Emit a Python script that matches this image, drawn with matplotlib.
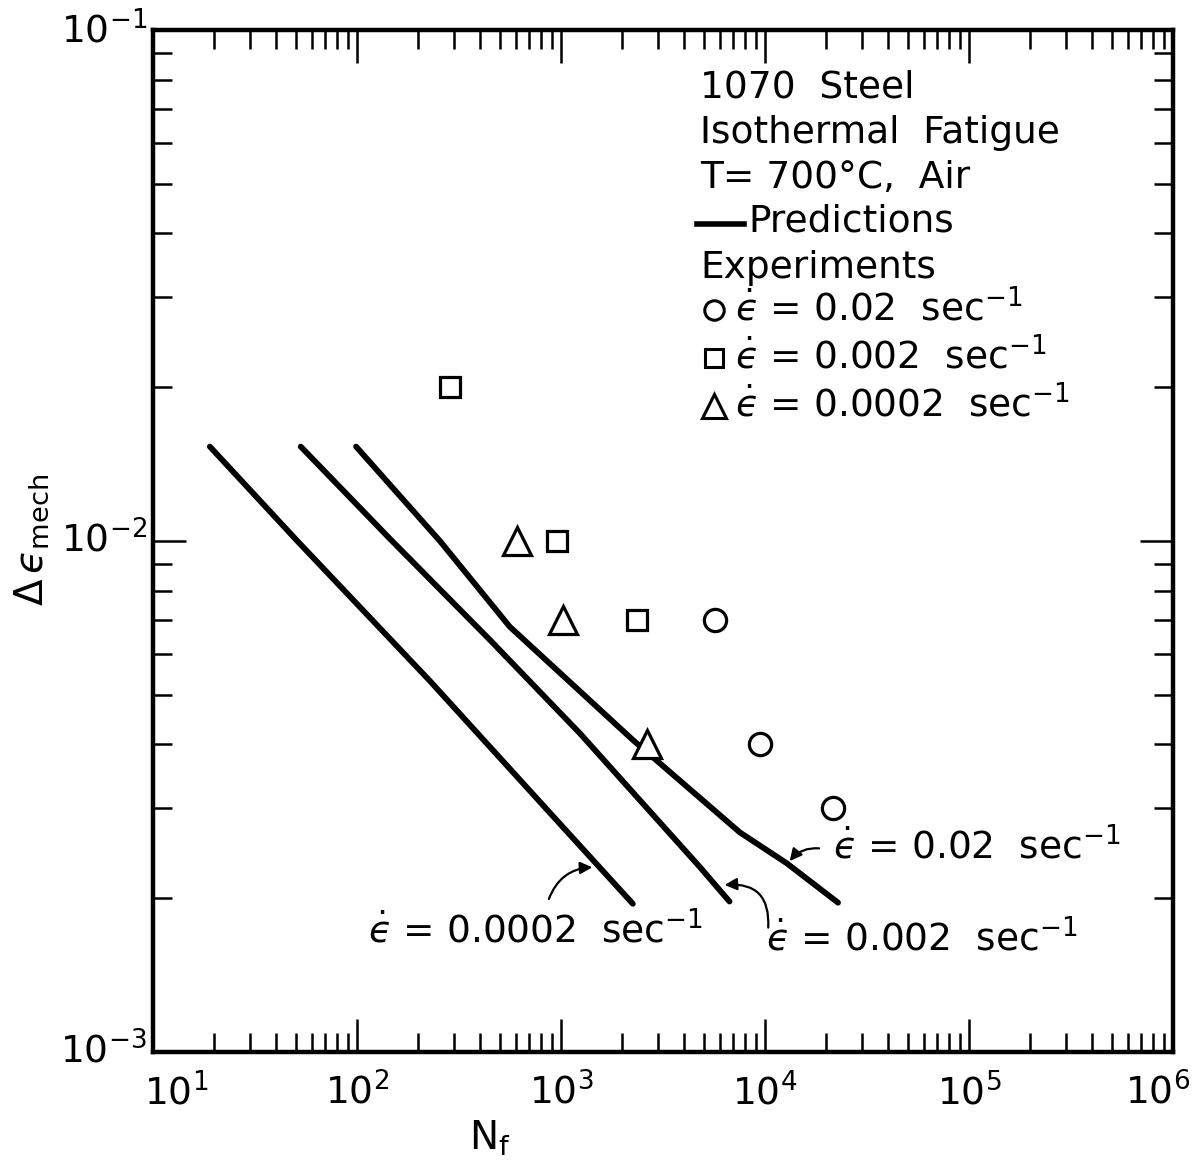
import numpy as np
import matplotlib
matplotlib.use("Agg")
import matplotlib.pyplot as plt
from matplotlib.ticker import LogLocator, NullFormatter
from matplotlib.transforms import blended_transform_factory

plt.rcParams['font.family'] = ['DejaVu Sans']
plt.rcParams['mathtext.fontset'] = 'dejavusans'

# predicted curves (Nf, strain range)
pred_0002_n = [19, 51, 228, 1070, 2250]
pred_0002_e = [0.0153, 0.0100, 0.00532, 0.0027, 0.00195]
pred_002_n = [53, 145, 449, 1240, 4800, 6700]
pred_002_e = [0.0153, 0.0101, 0.0064, 0.0042, 0.0023, 0.00197]
pred_02_n = [99, 255, 560, 2250, 7530, 12800, 22800]
pred_02_e = [0.0153, 0.0100, 0.0068, 0.00408, 0.00269, 0.00234, 0.00196]

# experiments
exp_02_n = [5690, 9440, 21500]
exp_02_e = [0.007, 0.004, 0.003]
exp_002_n = [286, 955, 2360]
exp_002_e = [0.020, 0.010, 0.007]
exp_0002_n = [608, 1020, 2640]
exp_0002_e = [0.010, 0.007, 0.004]

x_ticks = [1e1, 1e2, 1e3, 1e4, 1e5, 1e6]
x_ticklabels = [r'$10^{1}$', r'$10^{2}$', r'$10^{3}$', r'$10^{4}$', r'$10^{5}$', r'$10^{6}$']
y_ticks = [1e-3, 1e-2, 1e-1]
y_ticklabels = [r'$10^{-3}$', r'$10^{-2}$', r'$10^{-1}$']

EPS = '$\\dot{\u03f5}$'

W, H = 1195, 1162
fig = plt.figure(figsize=(W / 100, H / 100), dpi=100)
ax = fig.add_axes([153 / W, 1 - 1052 / H, (1173 - 153) / W, (1052 - 30) / H])

def fp(x, y):
    return x / W, 1 - y / H

for n, e in [(pred_0002_n, pred_0002_e), (pred_002_n, pred_002_e), (pred_02_n, pred_02_e)]:
    ax.plot(n, e, color='black', lw=4.2, solid_capstyle='round', solid_joinstyle='round')

mk = dict(linestyle='none', markerfacecolor='white', markeredgecolor='black', markeredgewidth=2.3)
ax.plot(exp_02_n, exp_02_e, marker='o', markersize=16, **mk)
ax.plot(exp_002_n, exp_002_e, marker='s', markersize=15, **mk)
ax.plot(exp_0002_n, exp_0002_e, marker='^', markersize=20, **mk)

ax.set_xscale('log')
ax.set_yscale('log')
ax.set_xlim(10, 1e6)
ax.set_ylim(1e-3, 1e-1)

ax.set_xticks(x_ticks)
ax.set_yticks(y_ticks)
ax.xaxis.set_minor_locator(LogLocator(base=10, subs=np.arange(2, 10), numticks=20))
ax.yaxis.set_minor_locator(LogLocator(base=10, subs=np.arange(2, 10), numticks=20))
ax.xaxis.set_minor_formatter(NullFormatter())
ax.yaxis.set_minor_formatter(NullFormatter())
ax.set_xticklabels([])
ax.set_yticklabels([])
ax.tick_params(which='both', direction='in', top=True, right=True, width=1.8, colors='black')
ax.tick_params(which='major', length=24)
ax.tick_params(which='minor', length=14)
for s in ax.spines.values():
    s.set_linewidth(3.2)

# tick labels drawn by hand so the end ones sit inside the figure like the original
tfs = 27
xt = blended_transform_factory(ax.transData, fig.transFigure)
x_shift = [23, 0, 0, 0, 0, -15]
for v, lab, dx in zip(x_ticks, x_ticklabels, x_shift):
    ax.text(v * 10 ** (dx / 204), 1 - 1093 / H, lab, transform=xt,
            ha='center', va='center', fontsize=tfs)
yt = blended_transform_factory(fig.transFigure, ax.transData)
for v, lab in zip(y_ticks, y_ticklabels):
    ax.text(147 / W, v, lab, transform=yt, ha='right', va='center', fontsize=tfs)

fig.text(*fp(32, 540), '$\\Delta\\,\u03f5_{\\mathrm{mech}}$', rotation=90,
         ha='center', va='center', fontsize=28)
fig.text(*fp(490, 1138), r'N$_\mathrm{f}$', ha='center', va='center', fontsize=28)

# legend block
tx = 700
fs = 27
fig.text(*fp(tx, 88), '1070  Steel', ha='left', va='center', fontsize=fs)
fig.text(*fp(tx, 133), 'Isothermal  Fatigue', ha='left', va='center', fontsize=fs)
fig.text(*fp(tx, 178), 'T= 700°C,  Air', ha='left', va='center', fontsize=fs)
fig.add_artist(plt.Line2D([697 / W, 744 / W], [1 - 224 / H, 1 - 224 / H], color='black', lw=4))
fig.text(*fp(748, 222), 'Predictions', ha='left', va='center', fontsize=fs)
fig.text(*fp(tx, 268), 'Experiments', ha='left', va='center', fontsize=fs)
leg_rows = [('o', 14, 308, EPS + ' = 0.02  sec$^{-1}$'),
            ('s', 13, 356, EPS + ' = 0.002  sec$^{-1}$'),
            ('^', 17, 404, EPS + ' = 0.0002  sec$^{-1}$')]
for m, ms, y, lab in leg_rows:
    fig.add_artist(plt.Line2D([714 / W], [1 - (y + 2) / H], marker=m, markersize=ms,
                              markerfacecolor='white', markeredgecolor='black',
                              markeredgewidth=2.2, linestyle='none'))
    fig.text(*fp(735, y), lab, ha='left', va='center', fontsize=fs)

# curve labels with arrows
fig.text(*fp(368, 930), EPS + ' = 0.0002  sec$^{-1}$', ha='left', va='center', fontsize=fs)
fig.text(*fp(766, 938), EPS + ' = 0.002  sec$^{-1}$', ha='left', va='center', fontsize=fs)
fig.text(*fp(833, 846), EPS + ' = 0.02  sec$^{-1}$', ha='left', va='center', fontsize=fs)

arr = dict(arrowstyle='-|>', color='black', lw=1.6, mutation_scale=18)
ax.annotate('', xy=(1469, 0.0023), xytext=(863, 0.00197),
            arrowprops=dict(connectionstyle='arc3,rad=-0.35', **arr))
ax.annotate('', xy=(6150, 0.00212), xytext=(10350, 0.00173),
            arrowprops=dict(connectionstyle='arc3,rad=0.6', **arr))
ax.annotate('', xy=(12970, 0.00234), xytext=(19000, 0.0025),
            arrowprops=dict(connectionstyle='arc3,rad=0.3', **arr))

fig.savefig('out.png', dpi=100, facecolor='white')
